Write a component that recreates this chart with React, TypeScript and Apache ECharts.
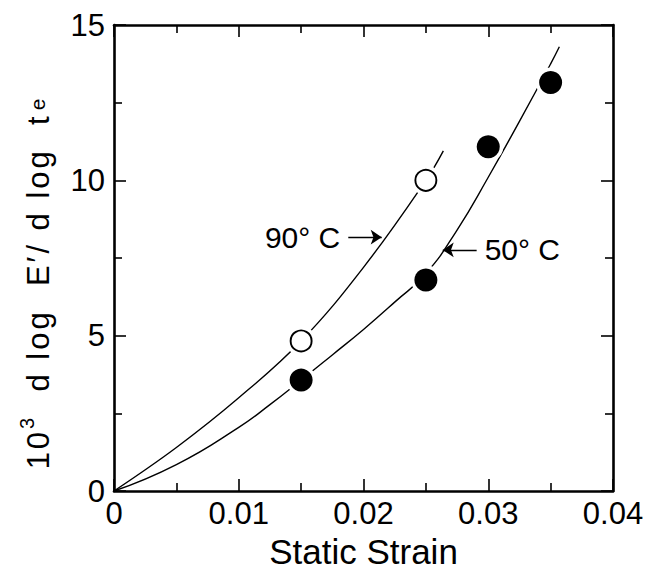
import React, { useEffect, useRef } from "react";
import * as echarts from "echarts";

// fitted curves
const strain90 = [0, 0.005, 0.01, 0.015, 0.02, 0.025, 0.0264];
const fit90 = [0, 1.4, 3.0, 4.83, 7.2, 10.0, 10.95];
const strain50 = [0, 0.005, 0.01, 0.0125, 0.015, 0.0175, 0.02, 0.0225, 0.025, 0.0275, 0.03, 0.0325, 0.035, 0.0357];
const fit50 = [0, 0.85, 2.05, 2.78, 3.57, 4.38, 5.2, 6.08, 7.0, 8.4, 10.1, 11.9, 13.75, 14.3];

// measured points
const open90X = [0.015, 0.025];
const open90Y = [4.83, 10.0];
const filled50X = [0.015, 0.025, 0.03, 0.035];
const filled50Y = [3.57, 6.79, 11.08, 13.15];

// annotations (label sits before the arrow's tail)
const annotText = ["90° C", "50° C"];
const annotY = [8.17, 7.76];
const arrowFromX = [0.01878, 0.02907];
const arrowToX = [0.02146, 0.02635];

// y-axis title pieces
const yTitleBase = "10";
const yTitleSup = "3";
const yTitleMid = "  d log  E′/ d log  t";
const yTitleSub = "e";

const FONT = "'Liberation Sans', Arial, Helvetica, sans-serif";

export default function App() {
  const ref = useRef<HTMLDivElement>(null);
  useEffect(() => {
    if (!ref.current) return;
    const chart = echarts.init(ref.current, undefined, { renderer: "svg" });
    const zip = (xs: number[], ys: number[]) => xs.map((x, i) => [x, ys[i]]);
    const allMarkers = zip(open90X, open90Y).concat(zip(filled50X, filled50Y));
    const spaced = (s: string, style: string) =>
      Array.from(s)
        .map((c) => `{${style}|${c}}`)
        .join("");
    const yTitle =
      spaced(yTitleBase, "n") + spaced(yTitleSup, "sup") + spaced(yTitleMid, "n") + spaced(yTitleSub, "sub");

    const axisCommon = {
      type: "value",
      axisLine: { show: true, onZero: false, lineStyle: { color: "#000", width: 2.6 } },
      axisTick: { show: true, inside: true, length: 12, lineStyle: { color: "#000", width: 1.6 } },
      minorTick: { show: true, splitNumber: 2, length: 8, lineStyle: { color: "#000", width: 1.6 } },
      splitLine: { show: false },
      minorSplitLine: { show: false },
    };

    const option: any = {
      animation: false,
      backgroundColor: "#fff",
      grid: { left: 114, right: 32, top: 25, bottom: 80, containLabel: false, outerBoundsMode: "none" },
      xAxis: [
        {
          ...axisCommon,
          position: "bottom",
          min: 0,
          max: 0.04,
          interval: 0.01,
          axisLabel: {
            margin: 7,
            fontSize: 31,
            color: "#000",
            fontFamily: FONT,
            formatter: (v: number) => (v === 0 ? "0" : String(Math.round(v * 1000) / 1000)),
          },
          name: "Static Strain",
          nameLocation: "middle",
          nameGap: 38,
          nameTextStyle: { fontSize: 35, color: "#000", fontFamily: FONT },
        },
        {
          ...axisCommon,
          position: "top",
          min: 0,
          max: 0.04,
          interval: 0.01,
          axisLabel: { show: false },
        },
      ],
      yAxis: [
        {
          ...axisCommon,
          position: "left",
          min: 0,
          max: 15,
          interval: 5,
          axisLabel: { margin: 9, fontSize: 31, color: "#000", fontFamily: FONT },
          name: yTitle,
          nameLocation: "middle",
          nameGap: 66,
          nameRotate: 90,
          nameTextStyle: {
            color: "#000",
            fontFamily: FONT,
            padding: [0, 52, 0, 0],
            rich: {
              n: { fontSize: 31, lineHeight: 31, padding: [11, 3, 0, 0], color: "#000", fontFamily: FONT },
              sup: { fontSize: 20, lineHeight: 20, padding: [0, 3, 0, 0], verticalAlign: "top", color: "#000", fontFamily: FONT },
              sub: { fontSize: 21, lineHeight: 21, padding: [0, 0, 0, 3], verticalAlign: "bottom", color: "#000", fontFamily: FONT },
            },
          },
        },
        {
          ...axisCommon,
          position: "right",
          min: 0,
          max: 15,
          interval: 5,
          axisLabel: { show: false },
        },
      ],
      series: [
        {
          type: "line",
          data: zip(strain90, fit90),
          smooth: 0.4,
          symbol: "none",
          lineStyle: { color: "#000", width: 1.4 },
          z: 2,
          silent: true,
        },
        {
          type: "line",
          data: zip(strain50, fit50),
          smooth: 0.5,
          symbol: "none",
          lineStyle: { color: "#000", width: 1.4 },
          z: 2,
          silent: true,
        },
        {
          type: "scatter",
          data: allMarkers,
          symbol: "circle",
          symbolSize: 30,
          itemStyle: { color: "#fff", opacity: 1 },
          z: 3,
          silent: true,
        },
        {
          type: "scatter",
          data: zip(open90X, open90Y),
          symbol: "circle",
          symbolSize: 21,
          itemStyle: { color: "#fff", borderColor: "#000", borderWidth: 1.9, opacity: 1 },
          z: 4,
          silent: true,
        },
        {
          type: "scatter",
          data: zip(filled50X, filled50Y),
          symbol: "circle",
          symbolSize: 23,
          itemStyle: { color: "#000", opacity: 1 },
          z: 4,
          silent: true,
        },
        {
          type: "line",
          data: [],
          symbol: "none",
          itemStyle: { color: "#000" },
          lineStyle: { color: "#000" },
          z: 5,
          silent: true,
          markLine: {
            silent: true,
            symbol: ["none", "arrow"],
            symbolSize: 11,
            label: {
              show: true,
              position: "start",
              distance: 8,
              formatter: (p: any) => p.name,
              fontSize: 30,
              color: "#000",
              fontFamily: FONT,
            },
            itemStyle: { color: "#000" },
            lineStyle: { color: "#000", width: 1.4, type: "solid" },
            emphasis: { disabled: true },
            data: annotText.map((t, i) => [
              { name: t, coord: [arrowFromX[i], annotY[i]] },
              { coord: [arrowToX[i], annotY[i]] },
            ]),
          },
        },
      ],
    };
    chart.setOption(option);
    return () => chart.dispose();
  }, []);
  return (
    <div
      ref={ref}
      style={{ position: "fixed", left: 0, top: 0, width: 645, height: 571, background: "#fff" }}
    />
  );
}
